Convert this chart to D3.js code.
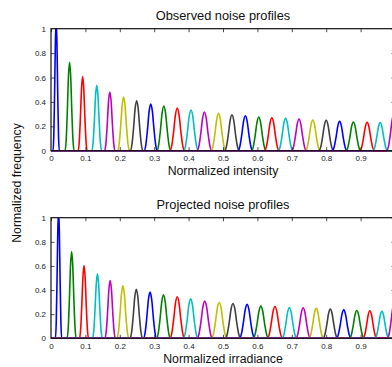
<!DOCTYPE html>
<html>
<head>
<meta charset="utf-8">
<script src="https://cdn.jsdelivr.net/npm/d3@7"></script>
<style>
  body { margin: 0; background: #fff; }
  svg { display: block; font-family: "Liberation Sans", Arial, Helvetica, sans-serif; }
  .tick text { font-size: 8px; fill: #222; }
</style>
</head>
<body>
<div id="chart"></div>
<script>
// MATLAB default line colour order
const colorOrder = ["#0000ff", "#008000", "#ff0000", "#00bfbf", "#bf00bf", "#bfbf00", "#404040"];

const xTickValues = [0, 0.1, 0.2, 0.3, 0.4, 0.5, 0.6, 0.7, 0.8, 0.9, 1];
const xTickLabels = [0, 0.1, 0.2, 0.3, 0.4, 0.5, 0.6, 0.7, 0.8, 0.9]; // "1" falls outside the window
const yTickValues = [0, 0.2, 0.4, 0.6, 0.8, 1];

// observed profiles: peak centre, peak height, half base width
const observedCenters = [0.015, 0.054, 0.092, 0.133, 0.171, 0.211, 0.249, 0.290, 0.328, 0.367, 0.407, 0.446, 0.487,
  0.526, 0.565, 0.604, 0.642, 0.682, 0.721, 0.761, 0.800, 0.839, 0.879, 0.919, 0.957, 0.997];
const observedPeaks = [1.06, 0.725, 0.607, 0.536, 0.481, 0.440, 0.410, 0.383, 0.366, 0.350, 0.334, 0.317, 0.306,
  0.295, 0.287, 0.276, 0.270, 0.265, 0.260, 0.252, 0.249, 0.240, 0.235, 0.233, 0.230, 0.300];
const observedWidths = [0.009, 0.013, 0.013, 0.014, 0.015, 0.017, 0.018, 0.019, 0.020, 0.021, 0.021, 0.021, 0.021,
  0.021, 0.021, 0.021, 0.021, 0.021, 0.021, 0.021, 0.021, 0.021, 0.021, 0.021, 0.021, 0.021];

// projected profiles
const projectedCenters = [0.022, 0.060, 0.096, 0.135, 0.172, 0.209, 0.248, 0.288, 0.327, 0.367, 0.406, 0.447, 0.489,
  0.529, 0.570, 0.610, 0.651, 0.693, 0.733, 0.771, 0.812, 0.851, 0.889, 0.927, 0.962, 0.998];
const projectedPeaks = [1.06, 0.720, 0.603, 0.534, 0.479, 0.435, 0.407, 0.383, 0.360, 0.344, 0.327, 0.308, 0.297,
  0.289, 0.281, 0.267, 0.264, 0.256, 0.253, 0.248, 0.242, 0.236, 0.231, 0.228, 0.223, 0.290];
const projectedWidths = [0.009, 0.013, 0.013, 0.014, 0.015, 0.017, 0.018, 0.019, 0.020, 0.021, 0.021, 0.022, 0.022,
  0.022, 0.022, 0.022, 0.022, 0.021, 0.021, 0.021, 0.021, 0.021, 0.021, 0.020, 0.020, 0.020];

// shape of one bump (relative offset from centre, relative height)
const shapeOffsets = [-1, -0.75, -0.5, -0.25, 0, 0.25, 0.5, 0.75, 1];
const shapeHeights = [0, 0.13, 0.45, 0.84, 1, 0.84, 0.45, 0.13, 0];

const width = 392, height = 367;
const svg = d3.select("#chart").append("svg")
  .attr("width", width)
  .attr("height", height);

const panels = [
  { title: "Observed noise profiles", xLabel: "Normalized intensity", top: 28.7, h: 122,
    centers: observedCenters, peaks: observedPeaks, widths: observedWidths },
  { title: "Projected noise profiles", xLabel: "Normalized irradiance", top: 217.7, h: 120.6,
    centers: projectedCenters, peaks: projectedPeaks, widths: projectedWidths }
];

const left = 51, plotW = 344;

panels.forEach((p, i) => {
  const g = svg.append("g").attr("transform", `translate(${left},${p.top})`);
  const x = d3.scaleLinear().domain([0, 1]).range([0, plotW]);
  const y = d3.scaleLinear().domain([0, 1]).range([p.h, 0]);

  g.append("clipPath").attr("id", "clip" + i)
    .append("rect").attr("x", 0).attr("y", 0).attr("width", plotW).attr("height", p.h + 1.5);

  const line = d3.line().x(d => x(d[0])).y(d => y(d[1])).curve(d3.curveMonotoneX);

  const curves = g.append("g").attr("clip-path", `url(#clip${i})`);
  p.centers.forEach((c, k) => {
    const pts = [[0, 0]];
    shapeOffsets.forEach((o, j) => pts.push([c + o * p.widths[k], p.peaks[k] * shapeHeights[j]]));
    pts.push([1.05, 0]);
    pts.sort((a, b) => a[0] - b[0]);
    curves.append("path")
      .datum(pts)
      .attr("fill", "none")
      .attr("stroke", colorOrder[k % colorOrder.length])
      .attr("stroke-width", 1.6)
      .attr("stroke-linejoin", "round")
      .attr("d", line);
  });

  // axes with inward ticks
  const fmt = d => d === 0 ? "0" : d === 1 ? "1" : d3.format(".1f")(d);
  const xAxis = g.append("g").attr("transform", `translate(0,${p.h})`)
    .call(d3.axisBottom(x).tickValues(xTickValues).tickSize(-3.5).tickPadding(5)
      .tickFormat(d => xTickLabels.includes(d) ? fmt(d) : ""));
  const xTop = g.append("g")
    .call(d3.axisTop(x).tickValues(xTickValues).tickSize(-3.5).tickFormat(""));
  const yAxis = g.append("g")
    .call(d3.axisLeft(y).tickValues(yTickValues).tickSize(-3.5).tickPadding(5).tickFormat(fmt));
  const yRight = g.append("g").attr("transform", `translate(${plotW},0)`)
    .call(d3.axisRight(y).tickValues(yTickValues).tickSize(-3.5).tickFormat(""));
  [xAxis, xTop, yAxis, yRight].forEach(a => {
    a.select(".domain").remove();
    a.selectAll(".tick line").attr("stroke", "#222").attr("stroke-width", 0.8);
  });
  xAxis.selectAll(".tick line").filter(d => d === 0).remove();
  yAxis.selectAll(".tick line").filter(d => d === 0 || d === 1).remove();

  g.append("rect")
    .attr("x", 0).attr("y", 0).attr("width", plotW).attr("height", p.h)
    .attr("fill", "none").attr("stroke", "#111").attr("stroke-width", 1.2);

  g.append("text")
    .attr("x", plotW / 2).attr("y", -8.5)
    .attr("text-anchor", "middle")
    .style("font-size", "12.8px").attr("fill", "#111")
    .text(p.title);

  g.append("text")
    .attr("x", plotW / 2).attr("y", p.h + 24.5)
    .attr("text-anchor", "middle")
    .style("font-size", "12.3px").attr("fill", "#111")
    .text(p.xLabel);
});

svg.append("text")
  .attr("transform", "translate(21,183) rotate(-90)")
  .attr("text-anchor", "middle")
  .style("font-size", "12.3px").attr("fill", "#111")
  .text("Normalized frequency");
</script>
</body>
</html>
